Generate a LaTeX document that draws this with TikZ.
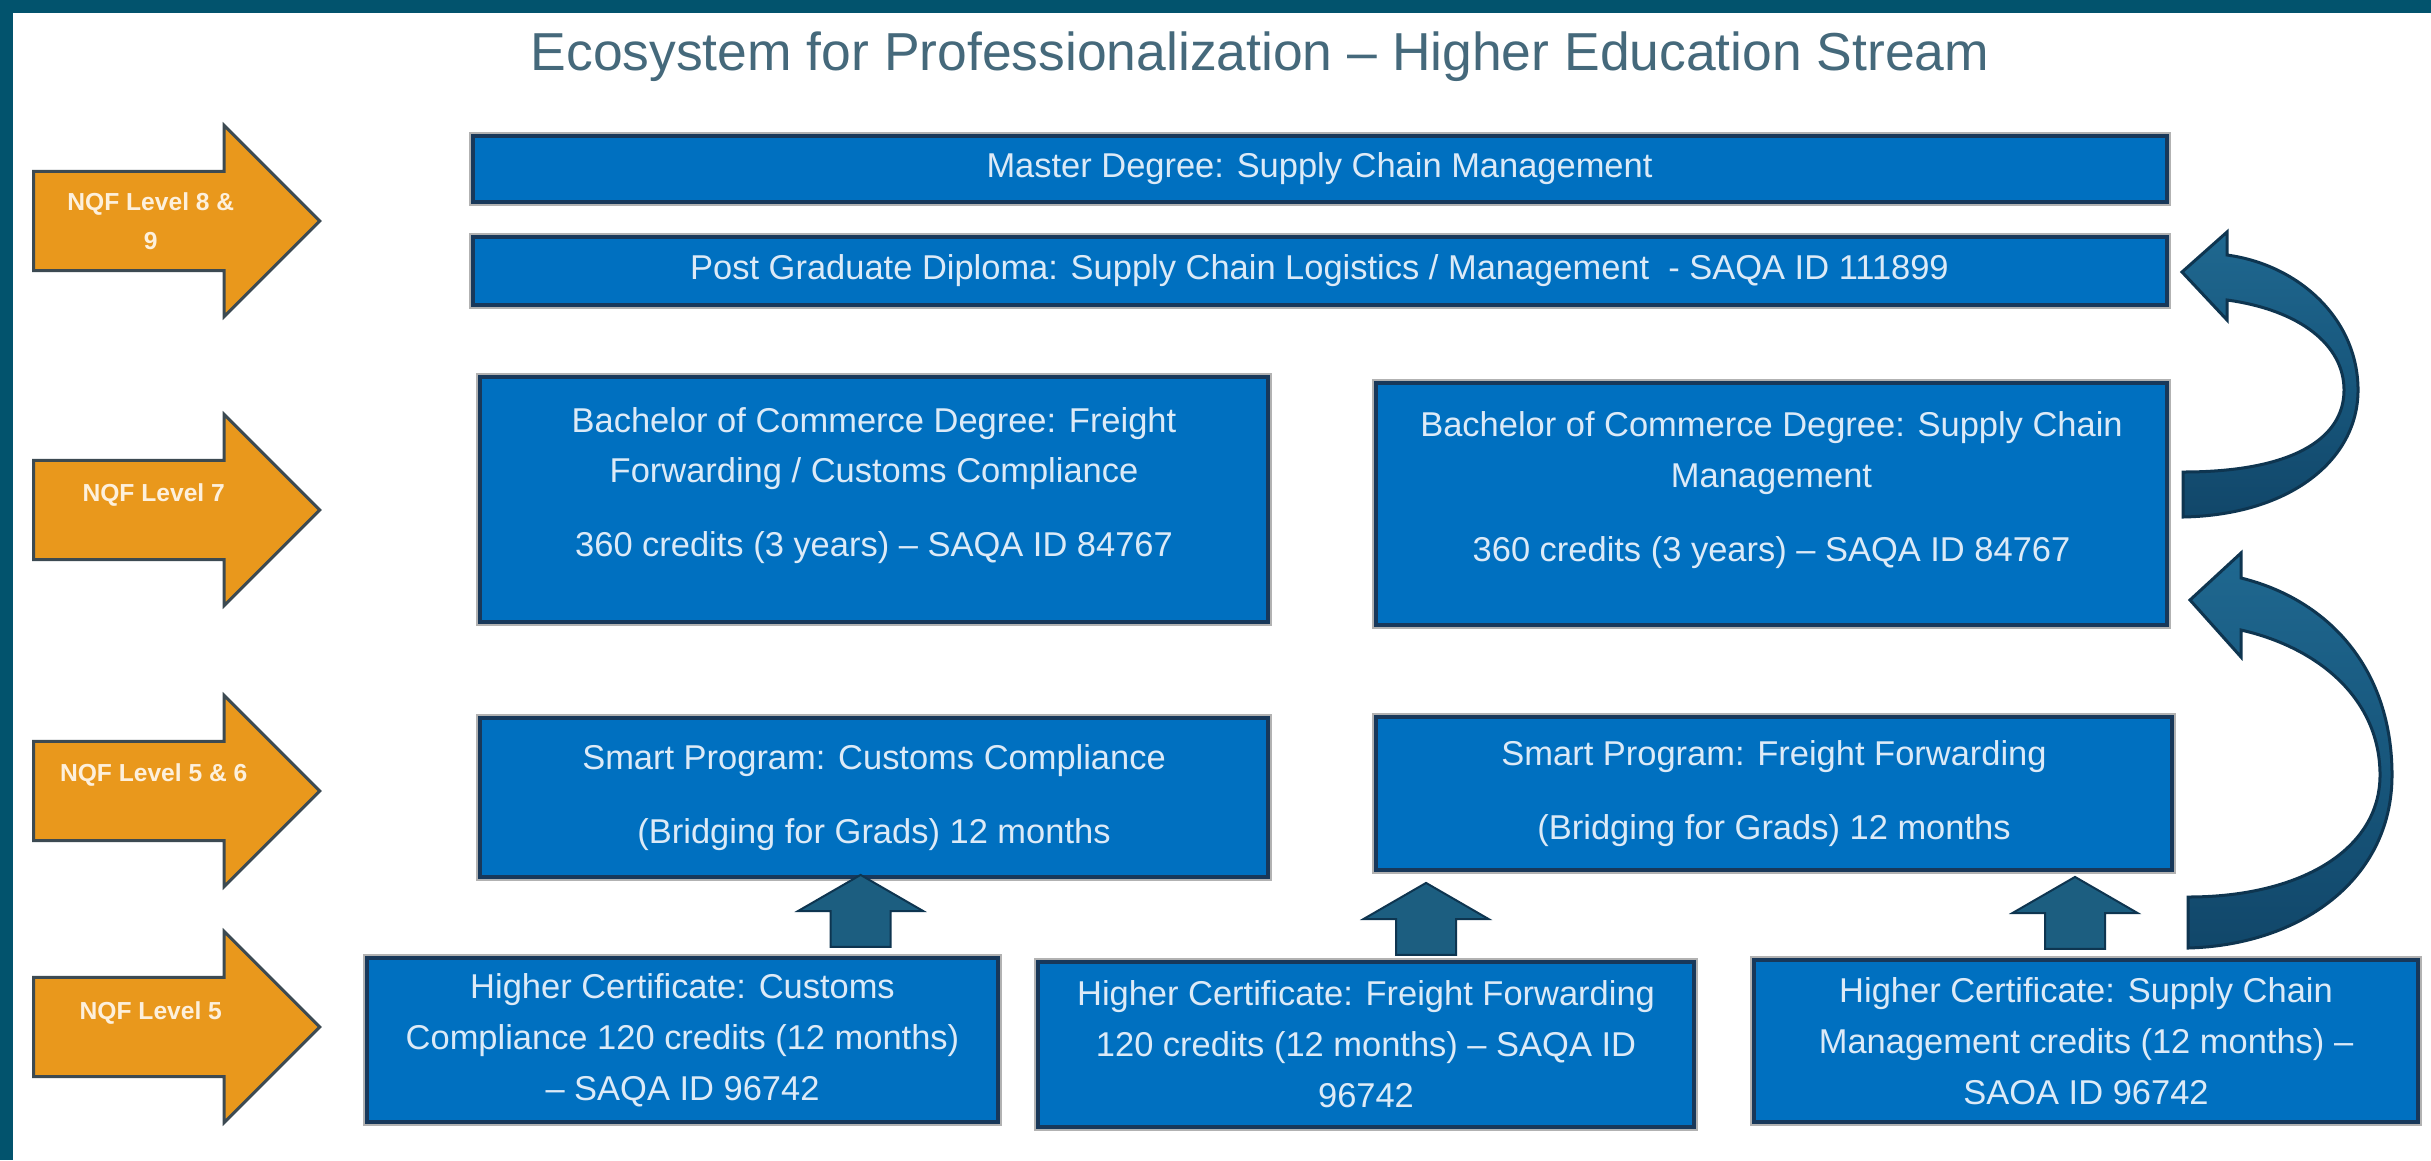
\documentclass[tikz,border=0pt]{standalone}
\usepackage{fontspec}
\setmainfont{Liberation Sans}
\usepackage{tikz}
\usetikzlibrary{shapes,arrows,shapes.geometric,positioning,calc}

\definecolor{frame}{HTML}{02536D}
\definecolor{titlecol}{HTML}{45697B}
\definecolor{boxblue}{HTML}{0070C0}
\definecolor{boxline}{HTML}{18385A}
\definecolor{boxtext}{HTML}{DCEAF7}
\definecolor{gold}{HTML}{E9981C}
\definecolor{goldline}{HTML}{3C4A52}
\definecolor{levtext}{HTML}{FDF0DC}
\definecolor{arrowblue}{HTML}{1C5E80}
\definecolor{arrowlight}{HTML}{1F6890}
\definecolor{arrowdark}{HTML}{11476A}
\definecolor{arrowline}{HTML}{0E3550}

\begin{document}
\begin{tikzpicture}[
	x=0.01cm, y=-0.01cm, thick, node distance=0.31cm,
	box/.style={rectangle,fill=boxblue,draw=boxline,line width=0.04cm,text=boxtext,align=center,inner sep=0pt,font=\fontsize{9.8}{14.5}\selectfont,preaction={draw=black!30,line width=0.08cm}},
	txt/.style={text=boxtext,align=center,font=\fontsize{9.8}{14.5}\selectfont},
	level/.style={single arrow,fill=gold,draw=goldline,line width=0.03cm,minimum height=2.86cm,minimum width=1.88cm,single arrow head extend=0.46cm,inner xsep=0pt,inner ysep=0.48cm},
	lvl/.style={text=levtext,align=center,font=\bfseries\fontsize{7}{11}\selectfont},
	up/.style={single arrow,rotate=90,fill=arrowblue,draw=arrowline,line width=0.02cm,minimum height=0.72cm,minimum width=1.23cm,single arrow head extend=0.325cm,single arrow tip angle=120,inner xsep=0pt,inner ysep=0.29cm},
	swoop/.style={draw=arrowline,line width=0.03cm,top color=arrowlight,bottom color=arrowdark}
	]
	\fill [frame] (0,0) rectangle (2431,1160);
	\fill [white] (13,13) rectangle (2431,1160);
	\useasboundingbox (0,0) rectangle (2431,1160);

	\node [text=titlecol,font=\fontsize{15.2}{18}\selectfont,anchor=base] (T) at (1260,70) {Ecosystem for Professionalization – Higher Education Stream};

	\node [box,minimum width=16.93cm,minimum height=0.66cm] (M) at (1319.5,169) {Master Degree: Supply Chain Management};
	\node [box,minimum width=16.93cm,minimum height=0.68cm,below=of M] (D) {Post Graduate Diploma: Supply Chain Logistics / Management\ \ - SAQA ID 111899};
	\node [box,minimum width=7.88cm,minimum height=2.45cm] (B1) at (874,499.5) {};
	\node [txt] (B1t) at ($(B1.center)+(0,-14)$) {Bachelor of Commerce Degree: Freight\\Forwarding / Customs Compliance\\[6.5pt]360 credits (3 years) – SAQA ID 84767};
	\node [box,minimum width=7.91cm,minimum height=2.42cm] (B2) at (1771.5,504) {};
	\node [txt] (B2t) at ($(B2.center)+(0,-14)$) {Bachelor of Commerce Degree: Supply Chain\\Management\\[6.5pt]360 credits (3 years) – SAQA ID 84767};
	\node [box,minimum width=7.88cm,minimum height=1.59cm] (S1) at (874,797.5) {Smart Program: Customs Compliance\\[6.5pt](Bridging for Grads) 12 months};
	\node [box,minimum width=7.96cm,minimum height=1.53cm] (S2) at (1774,793.5) {Smart Program: Freight Forwarding\\[6.5pt](Bridging for Grads) 12 months};
	\node [box,minimum width=6.31cm,minimum height=1.64cm] (C1) at (682.5,1040) {Higher Certificate: Customs\\Compliance 120 credits (12 months)\\– SAQA ID 96742};
	\node [box,minimum width=6.56cm,minimum height=1.65cm] (C2) at (1366,1044.5) {Higher Certificate: Freight Forwarding\\120 credits (12 months) – SAQA ID\\96742};
	\node [box,minimum width=6.64cm,minimum height=1.62cm] (C3) at (2086,1041) {Higher Certificate: Supply Chain\\Management credits (12 months) –\\SAOA ID 96742};

	\node [level,anchor=tail] (L8) at (32,221) {};
	\node [level,anchor=tail] (L7) at (32,510) {};
	\node [level,anchor=tail] (L56) at (32,791) {};
	\node [level,anchor=tail] (L5) at (32,1027) {};
	\node [lvl] (L8t) at ($(L8.tail)!0.41!(L8.tip)$) {NQF Level 8 \&\\9};
	\node [lvl] (L7t) at ($(L7.tail)!0.42!(L7.tip)+(0,-15)$) {NQF Level 7};
	\node [lvl] (L56t) at ($(L56.tail)!0.42!(L56.tip)+(0,-16)$) {NQF Level 5 \& 6};
	\node [lvl] (L5t) at ($(L5.tail)!0.41!(L5.tip)+(0,-14)$) {NQF Level 5};

	\node [up,anchor=tail] (U1) at ([xshift=1.78cm,yshift=0.08cm]C1.north) {};
	\node [up,anchor=tail] (U2) at ([xshift=0.6cm,yshift=0.04cm]C2.north) {};
	\node [up,anchor=tail] (U3) at ([xshift=-0.11cm,yshift=0.08cm]C3.north) {};

	\draw [swoop] (2183,517) .. controls (2290,515) and (2358,460) .. (2358,390) .. controls (2358,320) and (2300,265) .. (2227,255) -- (2227,232) -- (2182,272) -- (2227,320) -- (2227,300) .. controls (2300,310) and (2344,345) .. (2344,390) .. controls (2344,440) and (2290,472) .. (2183,472) -- cycle;
	\draw [swoop] (2188,948) .. controls (2300,945) and (2392,880) .. (2392,775) .. controls (2392,670) and (2330,600) .. (2241,578) -- (2241,553) -- (2190,600) -- (2241,657) -- (2241,630) .. controls (2320,648) and (2380,700) .. (2380,775) .. controls (2380,850) and (2300,897) .. (2188,897) -- cycle;
\end{tikzpicture}
\end{document}
